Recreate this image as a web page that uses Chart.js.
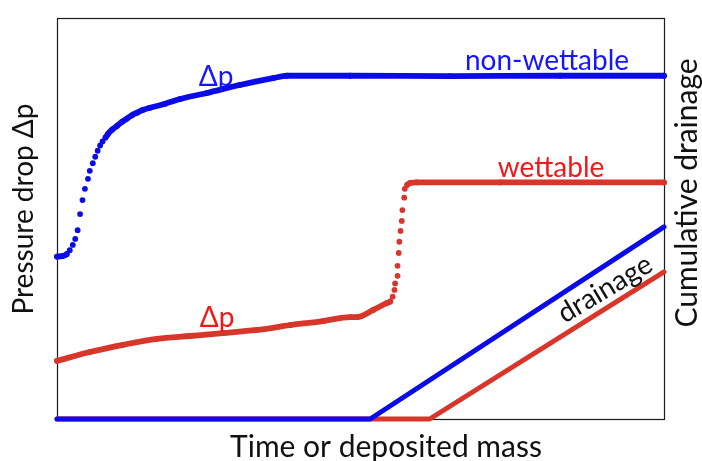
<!DOCTYPE html>
<html>
<head>
<meta charset="utf-8">
<script src="https://cdn.jsdelivr.net/npm/chart.js@4/dist/chart.umd.min.js"></script>
<style>
  html, body { margin: 0; padding: 0; background: #fff; }
  #wrap { width: 702px; height: 461px; }
</style>
</head>
<body>
<div id="wrap"><canvas id="c" width="702" height="461"></canvas></div>
<script>
// Pressure drop, non-wettable filter (time axis 0..100, arbitrary units)
const dpNonWetX = [0, 0.8, 1.6, 2.1, 2.6, 3.0, 3.4, 3.8, 4.2, 4.6, 5.1, 5.4, 5.9, 6.3, 6.7, 7.1, 7.5, 8.0, 8.4,
                   9.1, 9.9, 10.7, 11.5, 12.4, 13.2, 14.2, 15.3, 17.8, 20.3, 24.7, 30.1, 35.6, 37.9, 48.3, 64.7, 82.9, 100];
const dpNonWetY = [40.5, 40.6, 41.1, 42.1, 43.4, 44.9, 47.1, 51.1, 54.6, 57.4, 59.9, 61.9, 63.8, 65.4, 66.9, 68.2, 69.2, 70.2, 71.1,
                   72.2, 73.1, 74.1, 74.9, 75.8, 76.4, 77.1, 77.6, 78.6, 79.8, 81.3, 83.3, 85.0, 85.6, 85.6, 85.5, 85.6, 85.6];

// Pressure drop, wettable filter
const dpWetX = [0, 5.4, 10.9, 16.5, 21.9, 27.3, 32.9, 38.4, 43.8, 48.3, 49.4, 52.1, 54.3, 54.9, 55.3, 55.6, 55.7,
                56.1, 56.1, 56.3, 56.4, 56.6, 56.8, 56.9, 57.2, 57.3, 57.7, 58.2, 59.3, 73.0, 100];
const dpWetY = [14.5, 16.7, 18.5, 20.0, 20.7, 21.4, 22.2, 23.4, 24.4, 25.4, 25.4, 27.2, 28.9, 29.3, 30.5, 32.2, 33.8,
                35.7, 38.2, 41.4, 44.2, 46.9, 49.4, 52.1, 55.2, 57.4, 58.4, 58.9, 59.0, 59.0, 59.0];

// Cumulative drainage
const drainNonWetX = [0, 51.6, 100];
const drainNonWetY = [0, 0, 47.9];
const drainWetX = [0, 61.4, 100];
const drainWetY = [0, 0, 36.7];

const BLUE = '#0b0be8';
const RED = '#d8352b';
const BLUE_TEXT = '#1515ff';
const RED_TEXT = '#f01818';
const FONT = 'Lato, "Open Sans", sans-serif';

const pts = (xs, ys) => xs.map((x, i) => ({ x, y: ys[i] }));

// Steep, widely spaced samples are shown as separate dots rather than joined
const dotGap = (color) => (ctx) => {
  const dx = Math.abs(ctx.p1.x - ctx.p0.x);
  const dy = Math.abs(ctx.p1.y - ctx.p0.y);
  return (dy > 4 && dy > 1.3 * dx) ? 'rgba(0,0,0,0)' : color;
};

const frameAndLabels = {
  id: 'frameAndLabels',
  beforeDatasetsDraw(chart) {
    const { ctx, chartArea: a } = chart;
    ctx.save();
    ctx.strokeStyle = '#1a1a1a';
    ctx.lineWidth = 1.2;
    ctx.strokeRect(a.left + 0.5, a.top + 0.5, a.right - a.left, a.bottom - a.top);
    ctx.restore();
  },
  afterDatasetsDraw(chart) {
    const { ctx } = chart;
    const text = (s, x, y, color, size, rot, baseline) => {
      ctx.save();
      ctx.translate(x, y);
      if (rot) ctx.rotate(rot);
      ctx.fillStyle = color;
      ctx.font = size + 'px ' + FONT;
      ctx.textAlign = 'center';
      ctx.textBaseline = baseline || 'alphabetic';
      ctx.fillText(s, 0, 0);
      ctx.restore();
    };
    text('Time or deposited mass', 386, 457, '#111', 30);
    text('Pressure drop Δp', 33, 209, '#111', 28, -Math.PI / 2);
    text('Cumulative drainage', 697, 193, '#111', 30, -Math.PI / 2);
    text('non-wettable', 547, 70, BLUE_TEXT, 28);
    text('wettable', 551, 177, RED_TEXT, 28);
    text('Δp', 216, 86, BLUE_TEXT, 28);
    text('Δp', 217, 327, RED_TEXT, 28);
    text('drainage', 605, 289, '#111', 28, -31 * Math.PI / 180, 'middle');
  }
};

new Chart(document.getElementById('c'), {
  type: 'line',
  data: {
    datasets: [
      { label: 'drainage non-wettable', data: pts(drainNonWetX, drainNonWetY), borderColor: BLUE,
        borderWidth: 5, pointRadius: 0, order: 1, clip: false },
      { label: 'drainage wettable', data: pts(drainWetX, drainWetY), borderColor: RED,
        borderWidth: 5, pointRadius: 0, order: 2, clip: false },
      { label: 'Δp non-wettable', data: pts(dpNonWetX, dpNonWetY), borderColor: BLUE,
        backgroundColor: BLUE, borderWidth: 5.8, pointRadius: 2.9, pointBorderWidth: 0,
        cubicInterpolationMode: 'monotone',
        segment: { borderColor: dotGap(BLUE) }, order: 3, clip: false },
      { label: 'Δp wettable', data: pts(dpWetX, dpWetY), borderColor: RED,
        backgroundColor: RED, borderWidth: 5.8, pointRadius: 2.9, pointBorderWidth: 0,
        cubicInterpolationMode: 'monotone',
        segment: { borderColor: dotGap(RED) }, order: 4, clip: false }
    ]
  },
  options: {
    responsive: false,
    animation: false,
    layout: { padding: { left: 57, top: 18, right: 38, bottom: 42 } },
    plugins: { legend: { display: false }, tooltip: { enabled: false } },
    elements: { line: { tension: 0, borderCapStyle: 'round', borderJoinStyle: 'round' } },
    scales: {
      x: { type: 'linear', min: 0, max: 100, display: false },
      y: { type: 'linear', min: 0, max: 100, display: false }
    }
  },
  plugins: [frameAndLabels]
});
</script>
</body>
</html>
